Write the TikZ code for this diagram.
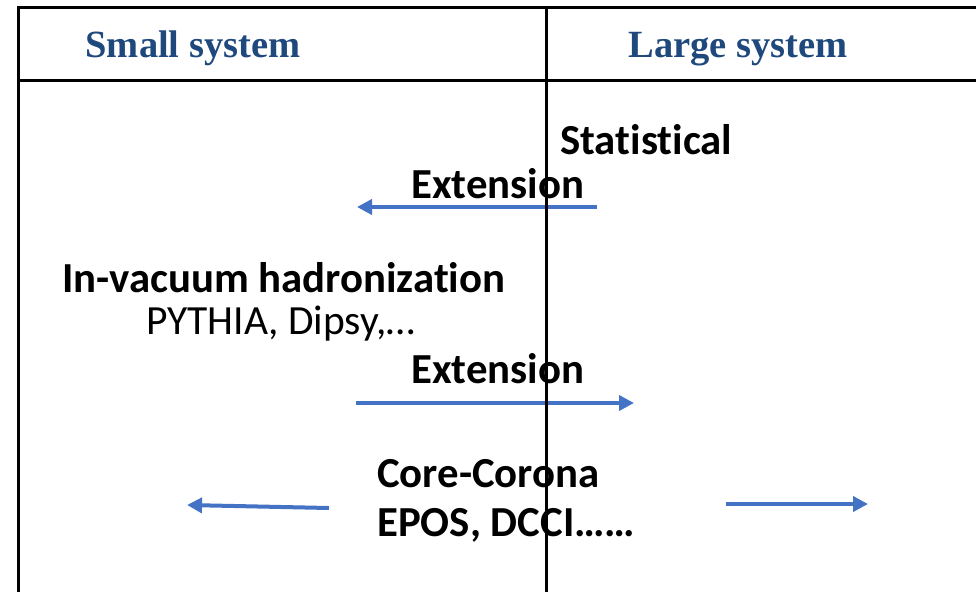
\documentclass[tikz,border=0pt]{standalone}
\usepackage{fontspec}
\setmainfont[Ligatures={NoCommon}]{Carlito}
\newfontfamily\tnr{Liberation Serif}
\usetikzlibrary{arrows.meta}
\definecolor{hdrblue}{HTML}{1F497D}
\definecolor{arrblue}{HTML}{4472C4}
\tikzset{
  hdr/.style={anchor=base, inner sep=0pt, text=hdrblue, font=\tnr\bfseries\fontsize{38.5}{40}\selectfont},
  bodytxt/.style={anchor=base west, inner sep=0pt, font=\bfseries\fontsize{42.8}{48}\selectfont},
  plaintxt/.style={anchor=base west, inner sep=0pt, font=\fontsize{41.5}{48}\selectfont},
  blarrow/.style={draw=arrblue, line width=4pt, -{Triangle[length=15pt,width=15pt]}},
  tabline/.style={draw=black, line width=3pt},
}
\begin{document}
\begin{tikzpicture}[x=1pt,y=-1pt]
\useasboundingbox (0,0) rectangle (976,592);
% headers
\node[hdr] (small) at (193,57) {Small system};
\node[hdr] (large) at (738,57) {Large system};
% texts
\node[bodytxt] (stat) at (560,154) {Statistical};
\node[bodytxt] (ext1) at (411,198) {Extension};
\node[bodytxt] (invac) at (62,292) {In-vacuum hadronization};
\node[plaintxt] (pyth) at (146,334) {PYTHIA, Dipsy,…};
\node[bodytxt] (ext2) at (411,383) {Extension};
\node[bodytxt] (core) at (377,487) {Core-Corona};
\node[bodytxt] (epos) at (377,536) {EPOS, DCCI……};
% arrows
\coordinate (a1s) at (597,207); \coordinate (a1e) at (357,207);
\coordinate (a2s) at (356,403); \coordinate (a2e) at (634,403);
\coordinate (a3s) at (329,508); \coordinate (a3e) at (187,505);
\coordinate (a4s) at (726,504); \coordinate (a4e) at (868,504);
\draw[blarrow] (a1s) -- (a1e);
\draw[blarrow] (a2s) -- (a2e);
\draw[blarrow] (a3s) -- (a3e);
\draw[blarrow] (a4s) -- (a4e);
% table lines
\coordinate (tl) at (18,7); \coordinate (tr) at (976,7);
\coordinate (hl) at (18,80); \coordinate (hr) at (976,80);
\coordinate (bl) at (18,592);
\coordinate (mt) at (546,7); \coordinate (mb) at (546,592);
\draw[tabline] (tr) -- (tl) -- (bl);
\draw[tabline] (hl) -- (hr);
\draw[tabline] (mt) -- (mb);
\end{tikzpicture}
\end{document}
